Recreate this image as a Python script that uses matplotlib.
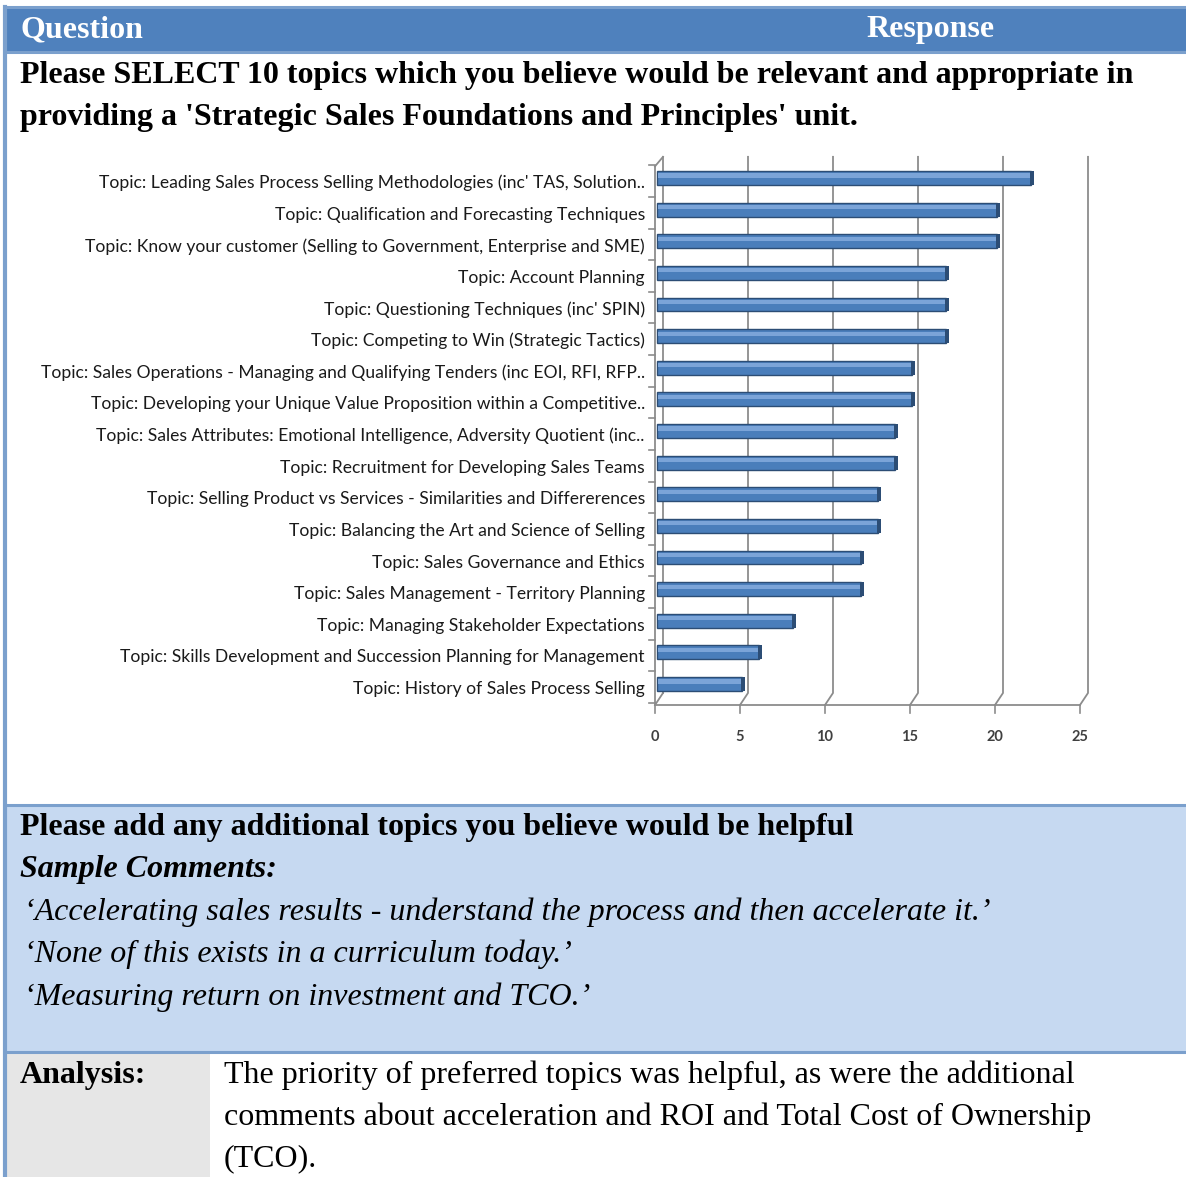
import matplotlib.pyplot as plt
from matplotlib.patches import Rectangle

# chart data (top to bottom)
topics = [
    "Topic: Leading Sales Process Selling Methodologies (inc' TAS, Solution..",
    "Topic: Qualification and Forecasting Techniques",
    "Topic: Know your customer (Selling to Government, Enterprise and SME)",
    "Topic: Account Planning",
    "Topic: Questioning Techniques (inc' SPIN)",
    "Topic: Competing to Win (Strategic Tactics)",
    "Topic: Sales Operations - Managing and Qualifying Tenders (inc EOI, RFI, RFP..",
    "Topic: Developing your Unique Value Proposition within a Competitive..",
    "Topic: Sales Attributes: Emotional Intelligence, Adversity Quotient (inc..",
    "Topic: Recruitment for Developing Sales Teams",
    "Topic: Selling Product vs Services - Similarities and Differerences",
    "Topic: Balancing the Art and Science of Selling",
    "Topic: Sales Governance and Ethics",
    "Topic: Sales Management - Territory Planning",
    "Topic: Managing Stakeholder Expectations",
    "Topic: Skills Development and Succession Planning for Management",
    "Topic: History of Sales Process Selling",
]
votes = [22, 20, 20, 17, 17, 17, 15, 15, 14, 14, 13, 13, 12, 12, 8, 6, 5]
xticks = [0, 5, 10, 15, 20, 25]

comments = [
    "\u2018Accelerating sales results - understand the process and then accelerate it.\u2019",
    "\u2018None of this exists in a curriculum today.\u2019",
    "\u2018Measuring return on investment and TCO.\u2019",
]
analysis = [
    "The priority of preferred topics was helpful, as were the additional",
    "comments about acceleration and ROI and Total Cost of Ownership",
    "(TCO).",
]

W, H = 1186, 1177
fig = plt.figure(figsize=(W / 100, H / 100), dpi=100)

# page / table layer in pixel coordinates
bg = fig.add_axes([0, 0, 1, 1])
bg.set_xlim(0, W)
bg.set_ylim(H, 0)
bg.axis('off')

serif = 'Liberation Serif'
fs = 23
border = '#7BA0CD'

bg.add_patch(Rectangle((5, 8), W, 44, facecolor='#4F81BD', edgecolor='none'))
bg.add_patch(Rectangle((5, 805), W, 247, facecolor='#C6D9F1', edgecolor='none'))
bg.add_patch(Rectangle((5, 1052), 205, 130, facecolor='#E6E6E6', edgecolor='none'))
for y in [7, 52, 805, 1052]:
    bg.plot([5, W], [y, y], color=border, lw=2.2)
bg.plot([5, 5], [7, H], color=border, lw=3)

bg.text(20, 30, "Question", fontfamily=serif, fontweight='bold', fontsize=fs,
        color='white', va='center')
bg.text(866, 30, "Response", fontfamily=serif, fontweight='bold', fontsize=fs,
        color='white', va='center')
bg.text(20, 75, "Please SELECT 10 topics which you believe would be relevant and appropriate in",
        fontfamily=serif, fontweight='bold', fontsize=fs, va='center')
bg.text(20, 117, "providing a 'Strategic Sales Foundations and Principles' unit.",
        fontfamily=serif, fontweight='bold', fontsize=fs, va='center')

bg.text(20, 828, "Please add any additional topics you believe would be helpful",
        fontfamily=serif, fontweight='bold', fontsize=fs, va='center')
bg.text(20, 869, "Sample Comments:", fontfamily=serif, fontweight='bold',
        fontstyle='italic', fontsize=fs, va='center')
for i, c in enumerate(comments):
    bg.text(24, 912 + i * 42.5, c, fontfamily=serif, fontstyle='italic',
            fontsize=fs, va='center')

bg.text(20, 1075, "Analysis:", fontfamily=serif, fontweight='bold', fontsize=fs,
        va='center')
for i, line in enumerate(analysis):
    bg.text(224, 1075 + i * 42, line, fontfamily=serif, fontsize=fs, va='center')

# chart
x0, x1 = 655, 1080
ytop, ybot = 160, 705
ax = fig.add_axes([x0 / W, 1 - ybot / H, (x1 - x0) / W, (ybot - ytop) / H])
n = len(topics)
step = 31.6
lo = -(178 - ytop) / step
hi = (n - 1) + (ybot - 684) / step
ax.set_xlim(0, 25)
ax.set_ylim(hi, lo)
ax.axis('off')

dx = 8 / 17.0
dy = 12 / step
grid_c = '#8C8C8C'
top_y = lo - 0.1
for t in xticks[1:]:
    ax.plot([t, t + dx, t + dx], [hi, hi - dy, top_y], color=grid_c, lw=1.3,
            clip_on=False)
# floor and walls
ax.plot([0, 25], [hi, hi], color=grid_c, lw=1.3, clip_on=False)
ax.plot([0, 0], [hi, lo + 0.2], color=grid_c, lw=1.3, clip_on=False)
ax.plot([0, dx], [hi, hi - dy], color=grid_c, lw=1.3, clip_on=False)
ax.plot([dx, dx], [hi - dy, top_y], color=grid_c, lw=1.3, clip_on=False)
ax.plot([0, dx], [lo + 0.2, top_y], color=grid_c, lw=1.3, clip_on=False)
for k in range(n + 1):
    yk = k - 0.5 + 0.1
    ax.plot([-0.35, 0], [yk, yk], color=grid_c, lw=1.2, clip_on=False)
for t in xticks:
    ax.plot([t, t], [hi, hi + 0.25], color=grid_c, lw=1.2, clip_on=False)
    ax.text(t, hi + 1.0, str(t), ha='center', va='center', fontfamily='Lato',
            fontweight='bold', fontsize=10.5, color='#404040', clip_on=False)

ypos = list(range(n))
ax.barh(ypos, votes, height=0.44, left=0.1, color='#4A7EBB', edgecolor='#2C4D75',
        lw=1.0, zorder=3)
ax.barh([y - 0.08 for y in ypos], votes, height=0.13, left=0.15, color='#7BA4D8',
        edgecolor='none', zorder=4)
ax.barh(ypos, [0.25] * n, left=[v + 0.05 for v in votes], height=0.44,
        color='#2C4D75', edgecolor='none', zorder=4)

for y, lab in zip(ypos, topics):
    ax.text(-0.6, y + 0.16, lab, ha='right', va='center', fontfamily='Lato',
            fontsize=12.6, color='#1a1a1a', clip_on=False)

fig.savefig('out.png', dpi=100)
